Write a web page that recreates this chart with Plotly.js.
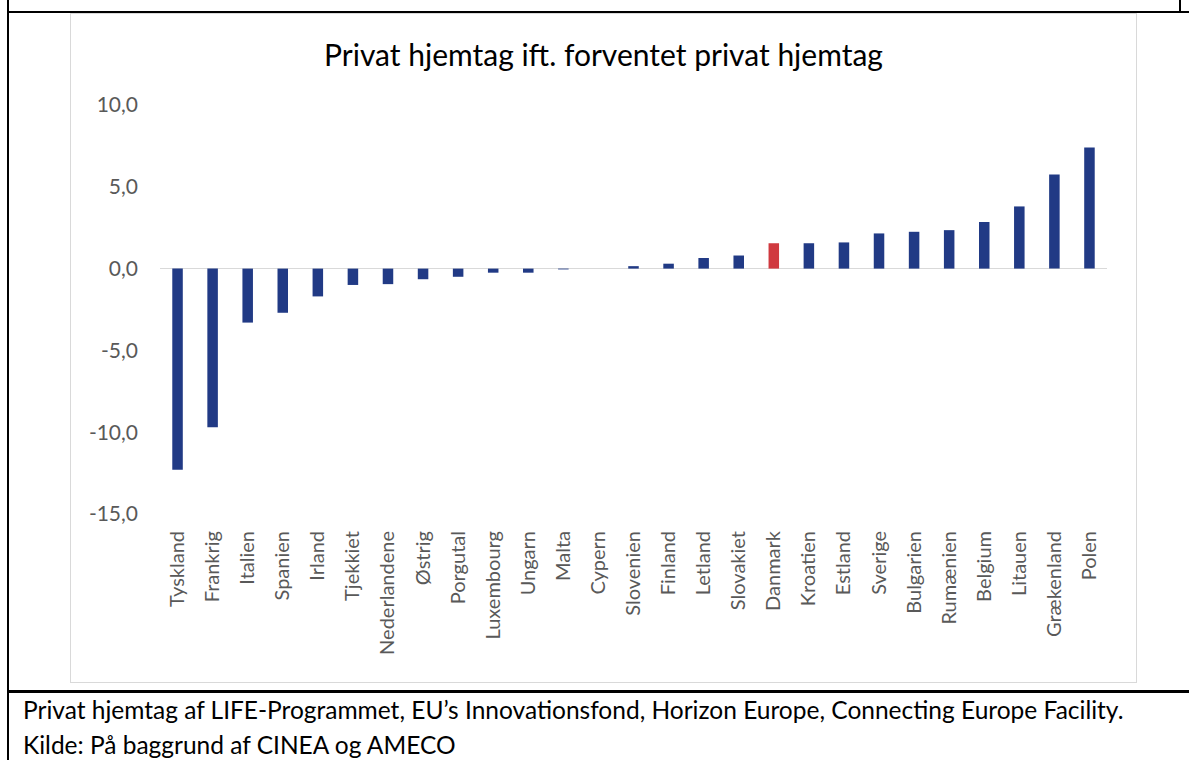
<!DOCTYPE html>
<html>
<head>
<meta charset="utf-8">
<script src="https://cdn.plot.ly/plotly-3.0.1.min.js"></script>
<style>
  html, body { margin: 0; padding: 0; background: #fff; }
  body { width: 1189px; height: 760px; position: relative; overflow: hidden; font-family: Lato, "Open Sans", sans-serif; }
  .ln { position: absolute; background: #000; }
  #chart { position: absolute; left: 70px; top: 13px; width: 1065px; height: 668px; border: 1px solid #d9d9d9; }
  .cap { position: absolute; left: 23px; font-size: 24.5px; line-height: 30px; color: #000; white-space: nowrap; }
</style>
</head>
<body>
<div class="ln" style="left:7px; top:0; width:2px; height:760px;"></div>
<div class="ln" style="left:7px; top:11px; width:1182px; height:2px;"></div>
<div class="ln" style="left:1179px; top:0; width:2px; height:12px;"></div>
<div class="ln" style="left:7px; top:690px; width:1182px; height:3px;"></div>
<div id="chart"></div>
<div class="cap" style="top:695px;">Privat hjemtag af LIFE-Programmet, EU’s Innovationsfond, Horizon Europe, Connecting Europe Facility.</div>
<div class="cap" style="top:730px;">Kilde: På baggrund af CINEA og AMECO</div>
<script>
const countries = ["Tyskland","Frankrig","Italien","Spanien","Irland","Tjekkiet","Nederlandene","Østrig","Porgutal","Luxembourg","Ungarn","Malta","Cypern","Slovenien","Finland","Letland","Slovakiet","Danmark","Kroatien","Estland","Sverige","Bulgarien","Rumænien","Belgium","Litauen","Grækenland","Polen"];
const values = [-12.3,-9.7,-3.3,-2.7,-1.7,-1.0,-0.95,-0.65,-0.5,-0.25,-0.25,-0.05,0,0.15,0.3,0.65,0.8,1.55,1.55,1.6,2.15,2.25,2.35,2.85,3.8,5.75,7.4];
const highlight = "Danmark";
const yTicks = [-15,-10,-5,0,5,10];
const yTickLabels = ["-15,0","-10,0","-5,0","0,0","5,0","10,0"];
const chartTitle = "Privat hjemtag ift. forventet privat hjemtag";

const navy = "#213a85", red = "#d0393f";
const colors = countries.map(c => c === highlight ? red : navy);

const trace = {
  type: "bar",
  x: countries,
  y: values,
  marker: { color: colors },
  hoverinfo: "x+y"
};

const layout = {
  width: 1065, height: 668,
  margin: { l: 89, r: 29, t: 91, b: 168 },
  paper_bgcolor: "#fff", plot_bgcolor: "#fff",
  bargap: 0.7,
  showlegend: false,
  title: {
    text: chartTitle,
    font: { family: "Lato, 'Open Sans', sans-serif", size: 30, color: "#000" },
    x: 0.5, xanchor: "center", xref: "container",
    y: 1 - 41/668, yanchor: "middle", yref: "container"
  },
  xaxis: {
    type: "category",
    tickangle: -90,
    showgrid: false, showline: false, zeroline: false,
    ticks: "",
    ticklabelstandoff: 12,
    tickfont: { family: "Lato, 'Open Sans', sans-serif", size: 20, color: "#595959" }
  },
  yaxis: {
    range: [-15, 10],
    tickvals: yTicks,
    ticktext: yTickLabels,
    showgrid: false, showline: false,
    zeroline: true, zerolinecolor: "#d9d9d9", zerolinewidth: 1.5,
    ticks: "",
    ticklabelstandoff: 21,
    tickfont: { family: "Lato, 'Open Sans', sans-serif", size: 21, color: "#595959" }
  }
};

Plotly.newPlot("chart", [trace], layout, { displayModeBar: false, staticPlot: true });
</script>
</body>
</html>
